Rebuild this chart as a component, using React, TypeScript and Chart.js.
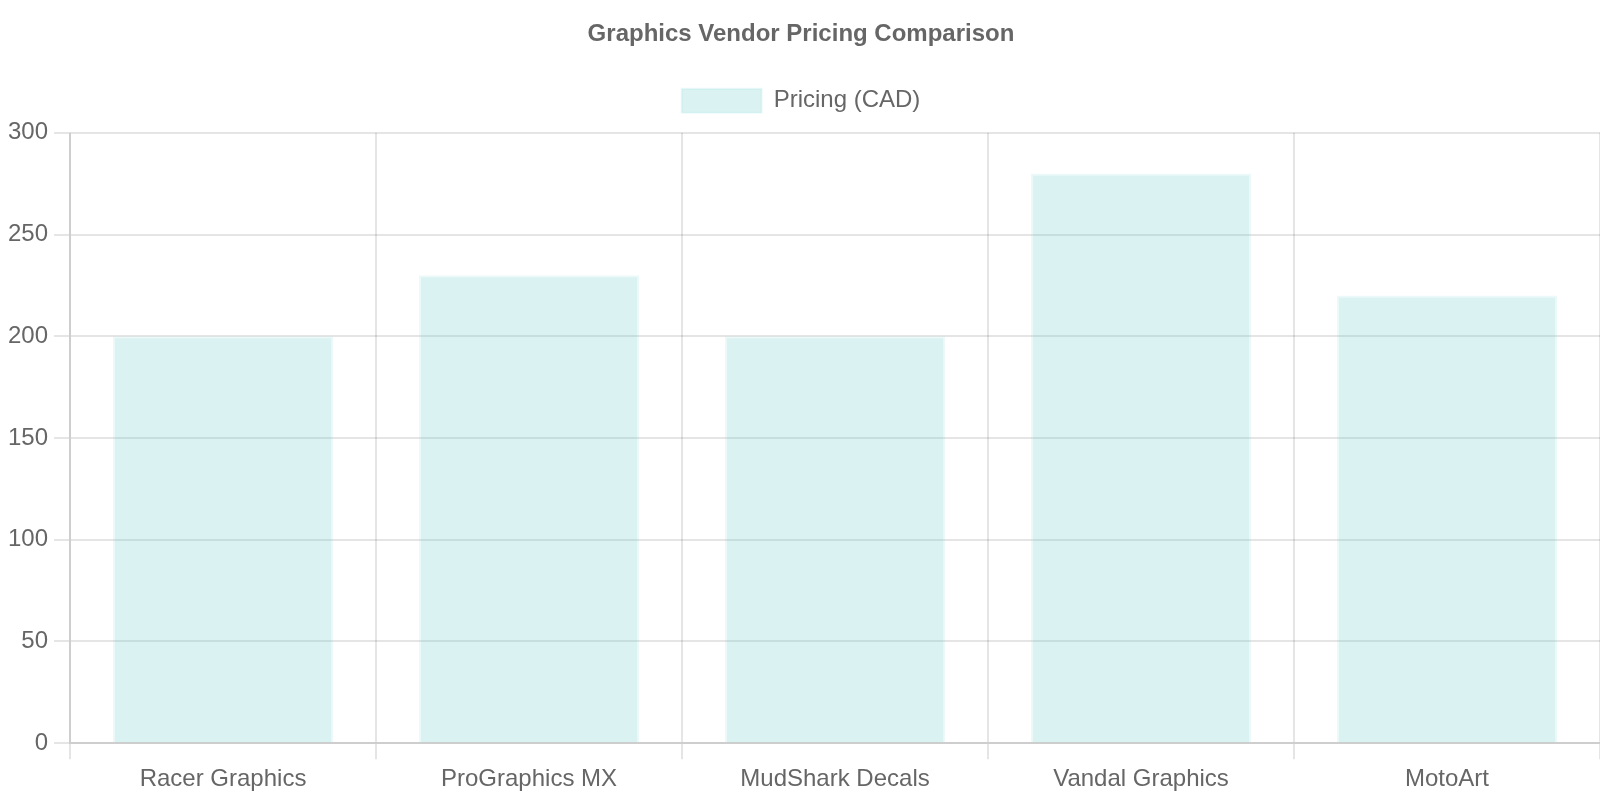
import React, { useEffect, useRef } from 'react';
import { Chart } from 'chart.js/auto';

const vendors = ['Racer Graphics', 'ProGraphics MX', 'MudShark Decals', 'Vandal Graphics', 'MotoArt'];
const pricingCad = [200, 230, 200, 280, 220];

const App = () => {
    const chartRef = useRef<HTMLCanvasElement>(null)

    useEffect(() => {
        if (!chartRef.current) return

        const ctx: CanvasRenderingContext2D | null = chartRef.current.getContext('2d')
        if (!ctx) return

        const myChart = new Chart(ctx, {
            type: 'bar',
            data: {
                labels: vendors,
                datasets: [{
                    label: 'Pricing (CAD)',
                    data: pricingCad,
                    backgroundColor: 'rgba(75, 192, 192, 0.2)',
                    borderColor: 'rgba(75, 192, 192, 0.1)',
                    borderWidth: 1,
                }],
            },
            options: {
                animation: false,
                responsive: true,
                maintainAspectRatio: false,
                devicePixelRatio: 2,
                layout: {
                    padding: { left: 1 },
                },
                plugins: {
                    title: {
                        display: true,
                        text: 'Graphics Vendor Pricing Comparison',
                    },
                },
                scales: {
                    y: {
                        beginAtZero: true,
                    },
                },
            },
        })

        return () => myChart.destroy()
    }, [])

    // rendered at 800x400 and scaled up 2x, like a retina screenshot
    return (
        <div style={{
            position: 'absolute',
            left: 0,
            top: 0,
            width: 800,
            height: 400,
            transform: 'scale(2)',
            transformOrigin: '0 0',
        }}>
            <canvas ref={chartRef} />
        </div>
    )
};

export default App;
